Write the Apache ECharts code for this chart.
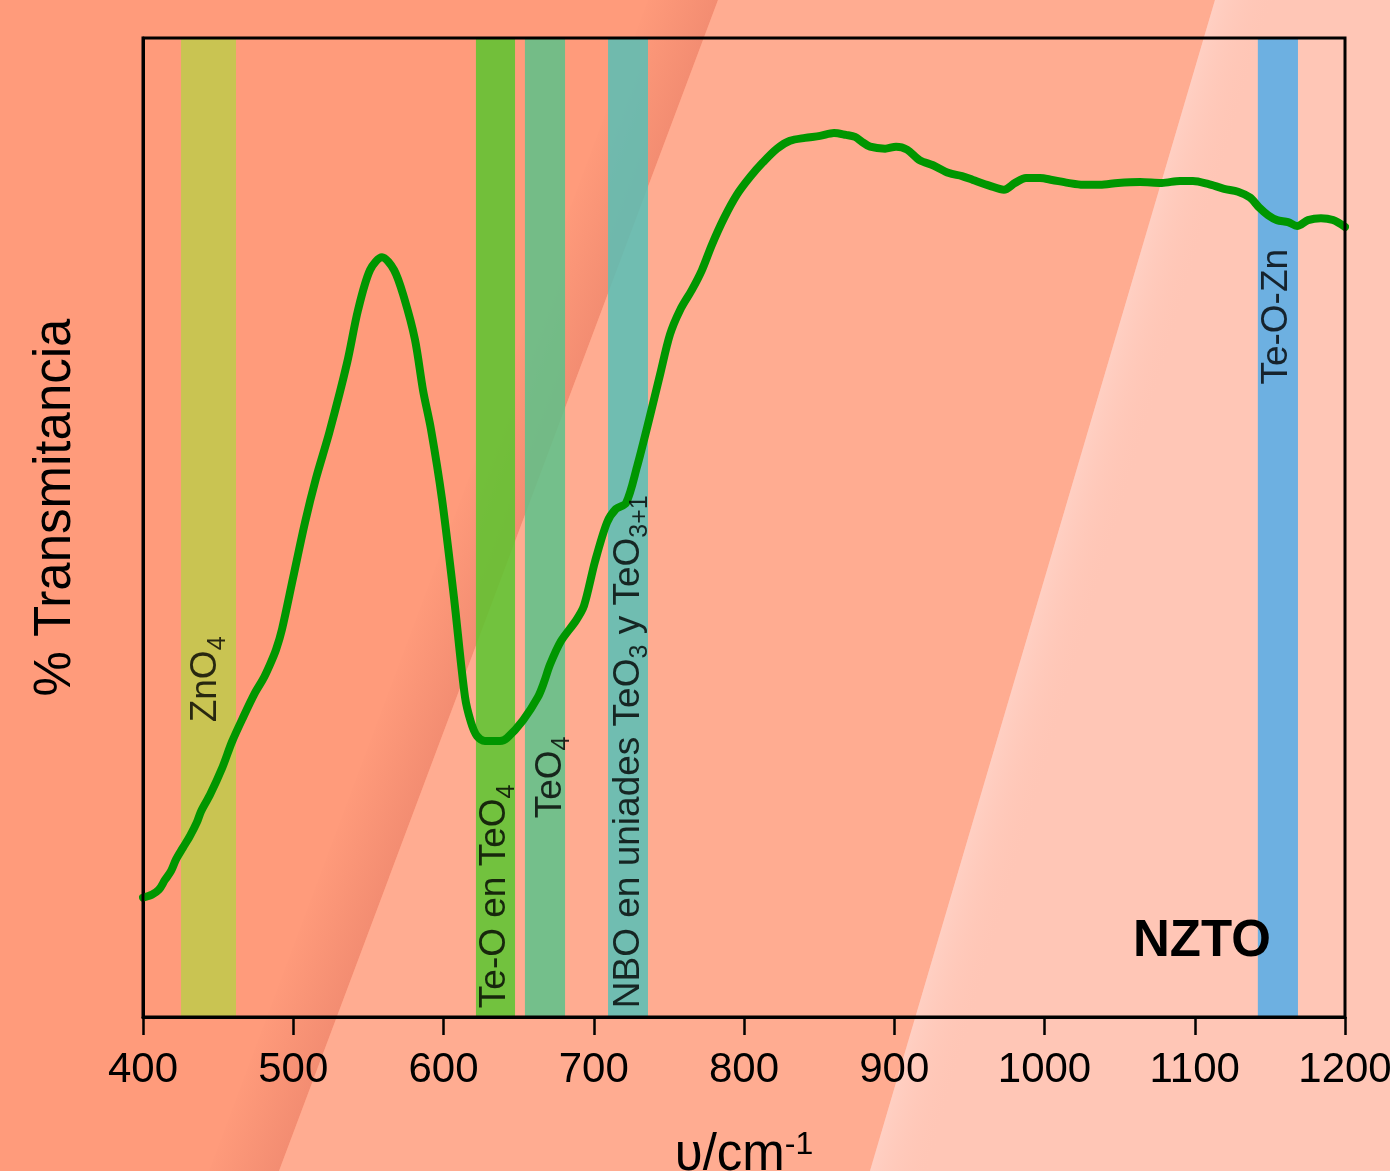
<!DOCTYPE html>
<html>
<head>
<meta charset="utf-8">
<script src="https://cdn.jsdelivr.net/npm/echarts@6/dist/echarts.min.js"></script>
<style>html,body{margin:0;padding:0;}#c{width:1390px;height:1171px;}</style>
</head>
<body>
<div id="c"></div>
<script>
// ---- data ----
const wavenumber = [400.0,406.0,410.6,414.6,418.6,422.0,426.6,431.3,435.9,438.6,444.6,452.6,459.2,466.6,474.5,479.9,484.5,488.5,492.5,499.8,507.8,515.1,524.0,535.8,543.1,551.1,559.1,567.1,573.7,581.0,586.4,591.7,599.0,607.0,614.3,618.3,622.3,627.6,637.6,642.3,652.9,662.9,666.9,670.9,678.2,688.2,693.5,700.8,708.8,714.8,721.5,728.8,736.8,744.1,750.7,757.4,765.4,772.0,778.7,786.7,795.3,804.0,812.6,822.0,830.6,840.6,850.6,859.9,867.9,873.9,878.5,883.9,893.9,901.2,908.5,917.1,925.8,936.4,945.1,952.4,963.7,973.0,980.4,987.7,997.0,1005.0,1015.6,1025.6,1036.9,1048.9,1063.6,1078.2,1090.2,1098.8,1108.8,1119.5,1128.8,1136.8,1142.8,1148.8,1154.7,1162.1,1168.1,1175.4,1184.0,1192.0,1200.0];
const transmittance = [12.2,12.5,13.0,14.0,14.9,16.1,17.3,18.5,19.9,21.0,22.7,25.4,28.1,30.6,33.1,34.5,36.0,37.5,39.6,44.8,50.5,55.0,59.7,66.8,72.2,76.3,77.6,76.3,73.5,69.2,64.0,60.0,52.9,42.8,32.7,30.1,28.7,28.2,28.2,28.5,30.3,32.7,34.2,36.0,38.4,40.5,42.0,46.5,50.5,51.9,52.5,56.2,61.0,65.6,69.7,72.2,74.3,76.3,78.9,81.6,84.0,85.8,87.3,88.7,89.5,89.8,90.0,90.3,90.1,89.9,89.4,88.9,88.7,88.9,88.6,87.5,87.0,86.2,85.9,85.5,84.9,84.5,85.2,85.7,85.7,85.5,85.2,85.0,85.0,85.2,85.3,85.2,85.4,85.4,85.1,84.6,84.3,83.7,82.7,81.9,81.4,81.2,80.8,81.4,81.6,81.4,80.7];
const bandStart = [425.3, 621.6, 654.2, 709.5, 1142.0];
const bandEnd   = [461.9, 647.6, 680.9, 736.1, 1168.7];
const bandNames = ['{m|ZnO}{s|4}', '{m|Te-O en TeO}{s|4}', '{m|TeO}{s|4}', '{m|NBO en uniades TeO}{s|3}{m| y TeO}{s|3+1}', '{m|Te-O-Zn}'];
const xTicks = [400,500,600,700,800,900,1000,1100,1200];
const sampleName = 'NZTO';

// ---- layout / style (not data) ----
const bandColors = ['rgba(191,203,75,0.85)','rgba(89,198,47,0.85)','rgba(92,194,138,0.85)','rgba(87,191,182,0.85)','rgba(89,173,231,0.88)'];
const labelBaseT = [30.1, 0.9, 20.3, 0.9, 64.6];
const labelShiftPx = [1, 3, 9, 4, 2];
const FONT = 'Liberation Sans, Arial, Helvetica, sans-serif';

const chart = echarts.init(document.getElementById('c'), null, {renderer:'canvas'});
const line = wavenumber.map((v,i)=>[v, transmittance[i]]);

const b1 = {x0:718, x1:279}, b2 = {x0:1215, x1:870};
function perpGrad(b, w, c0, c1){
  const dx = b.x1 - b.x0, dy = 1171; const L = Math.hypot(dx,dy);
  const px = dy/L, py = -dx/L;
  const mx = (b.x0+b.x1)/2, my = 585;
  return new echarts.graphic.LinearGradient(mx - px*w, my - py*w, mx, my, [{offset:0,color:c0},{offset:1,color:c1}], true);
}

const option = {
  backgroundColor: '#FF9B7B',
  animation: false,
  graphic: { elements: [
    { type:'polygon', z:-10, silent:true, shape:{points:[[b1.x0-70,0],[b1.x0,0],[b1.x1,1171],[b1.x1-70,1171]]},
      style:{ fill: perpGrad(b1, 70, 'rgba(225,120,100,0)', 'rgba(225,120,100,0.4)') } },
    { type:'polygon', z:-10, silent:true, shape:{points:[[b1.x0,0],[1390,0],[1390,1171],[b1.x1,1171]]}, style:{fill:'#FFAC91'} },
    { type:'polygon', z:-10, silent:true, shape:{points:[[b2.x0,0],[1390,0],[1390,1171],[b2.x1,1171]]}, style:{fill:'#FFC6B6'} },
    { type:'polygon', z:-10, silent:true, shape:{points:[[b2.x0,0],[b2.x0+60,0],[b2.x1+60,1171],[b2.x1,1171]]},
      style:{ fill: perpGrad({x0:b2.x0+60,x1:b2.x1+60}, 60, 'rgba(255,215,205,0.6)', 'rgba(255,198,182,0)') } }
  ]},
  title: { text: sampleName, left: 1133, top: 916, padding: 0,
    textStyle: { fontSize: 51, fontWeight: 'bold', color: '#000', fontFamily: FONT } },
  grid: { left: 143, right: 45, top: 38, bottom: 154, containLabel: false, outerBoundsMode: 'none',
    show: true, borderColor: '#000', borderWidth: 3, backgroundColor: 'transparent', z: 10 },
  xAxis: {
    type: 'value', min: 400, max: 1200, interval: 100,
    name: '{a|υ/cm}{b|-1}', nameLocation: 'middle', nameGap: 112,
    nameTextStyle: { rich: { a: { fontSize: 51, fontFamily: FONT, color:'#000', lineHeight: 52, verticalAlign:'bottom' }, b: { fontSize: 32, fontFamily: FONT, color:'#000', lineHeight: 52, verticalAlign:'top' } } },
    axisLine: { lineStyle: { color: '#000', width: 3 } },
    axisTick: { show: true, inside: false, length: 18, lineStyle: { color: '#000', width: 2.5 } },
    axisLabel: { fontSize: 42, color: '#000', fontFamily: FONT, margin: 32, formatter: v => xTicks.includes(v) ? String(v) : '' },
    splitLine: { show: false }
  },
  yAxis: {
    type: 'value', min: 0, max: 100,
    name: '% Transmitancia', nameLocation: 'middle', nameGap: 62,
    nameTextStyle: { fontSize: 51, color: '#000', fontFamily: FONT, padding: [0, 0, 0, 40] },
    axisLine: { show: true, lineStyle: { color: '#000', width: 3 } },
    axisTick: { show: false }, axisLabel: { show: false }, splitLine: { show: false }
  },
  series: [
    { type: 'line', data: [], z: 1, silent: true,
      markArea: { silent: true, z: 1,
        data: bandStart.map((s,i)=>[{ xAxis: s, itemStyle: { color: bandColors[i] } }, { xAxis: bandEnd[i] }]) } },
    { type: 'line', data: line, z: 3, smooth: 0.3, showSymbol: false, silent: true,
      lineStyle: { color: '#009600', width: 8, cap: 'round', join: 'round' } },
    { type: 'scatter', z: 4, silent: true, symbolSize: 0,
      data: bandNames.map((t,i)=>({ value: [(bandStart[i]+bandEnd[i])/2 + labelShiftPx[i]*800/1202, labelBaseT[i]], label: { formatter: t } })),
      label: { show: true, position: [0,0], rotate: 90, align: 'left', verticalAlign: 'middle',
        rich: {
          m: { fontSize: 37, fontFamily: FONT, color: '#000', lineHeight: 42, verticalAlign: 'bottom', padding: [0,0,6,0] },
          s: { fontSize: 25, fontFamily: FONT, color: '#000', lineHeight: 25, verticalAlign: 'bottom' }
        } } }
  ]
};
chart.setOption(option);
</script>
</body>
</html>
